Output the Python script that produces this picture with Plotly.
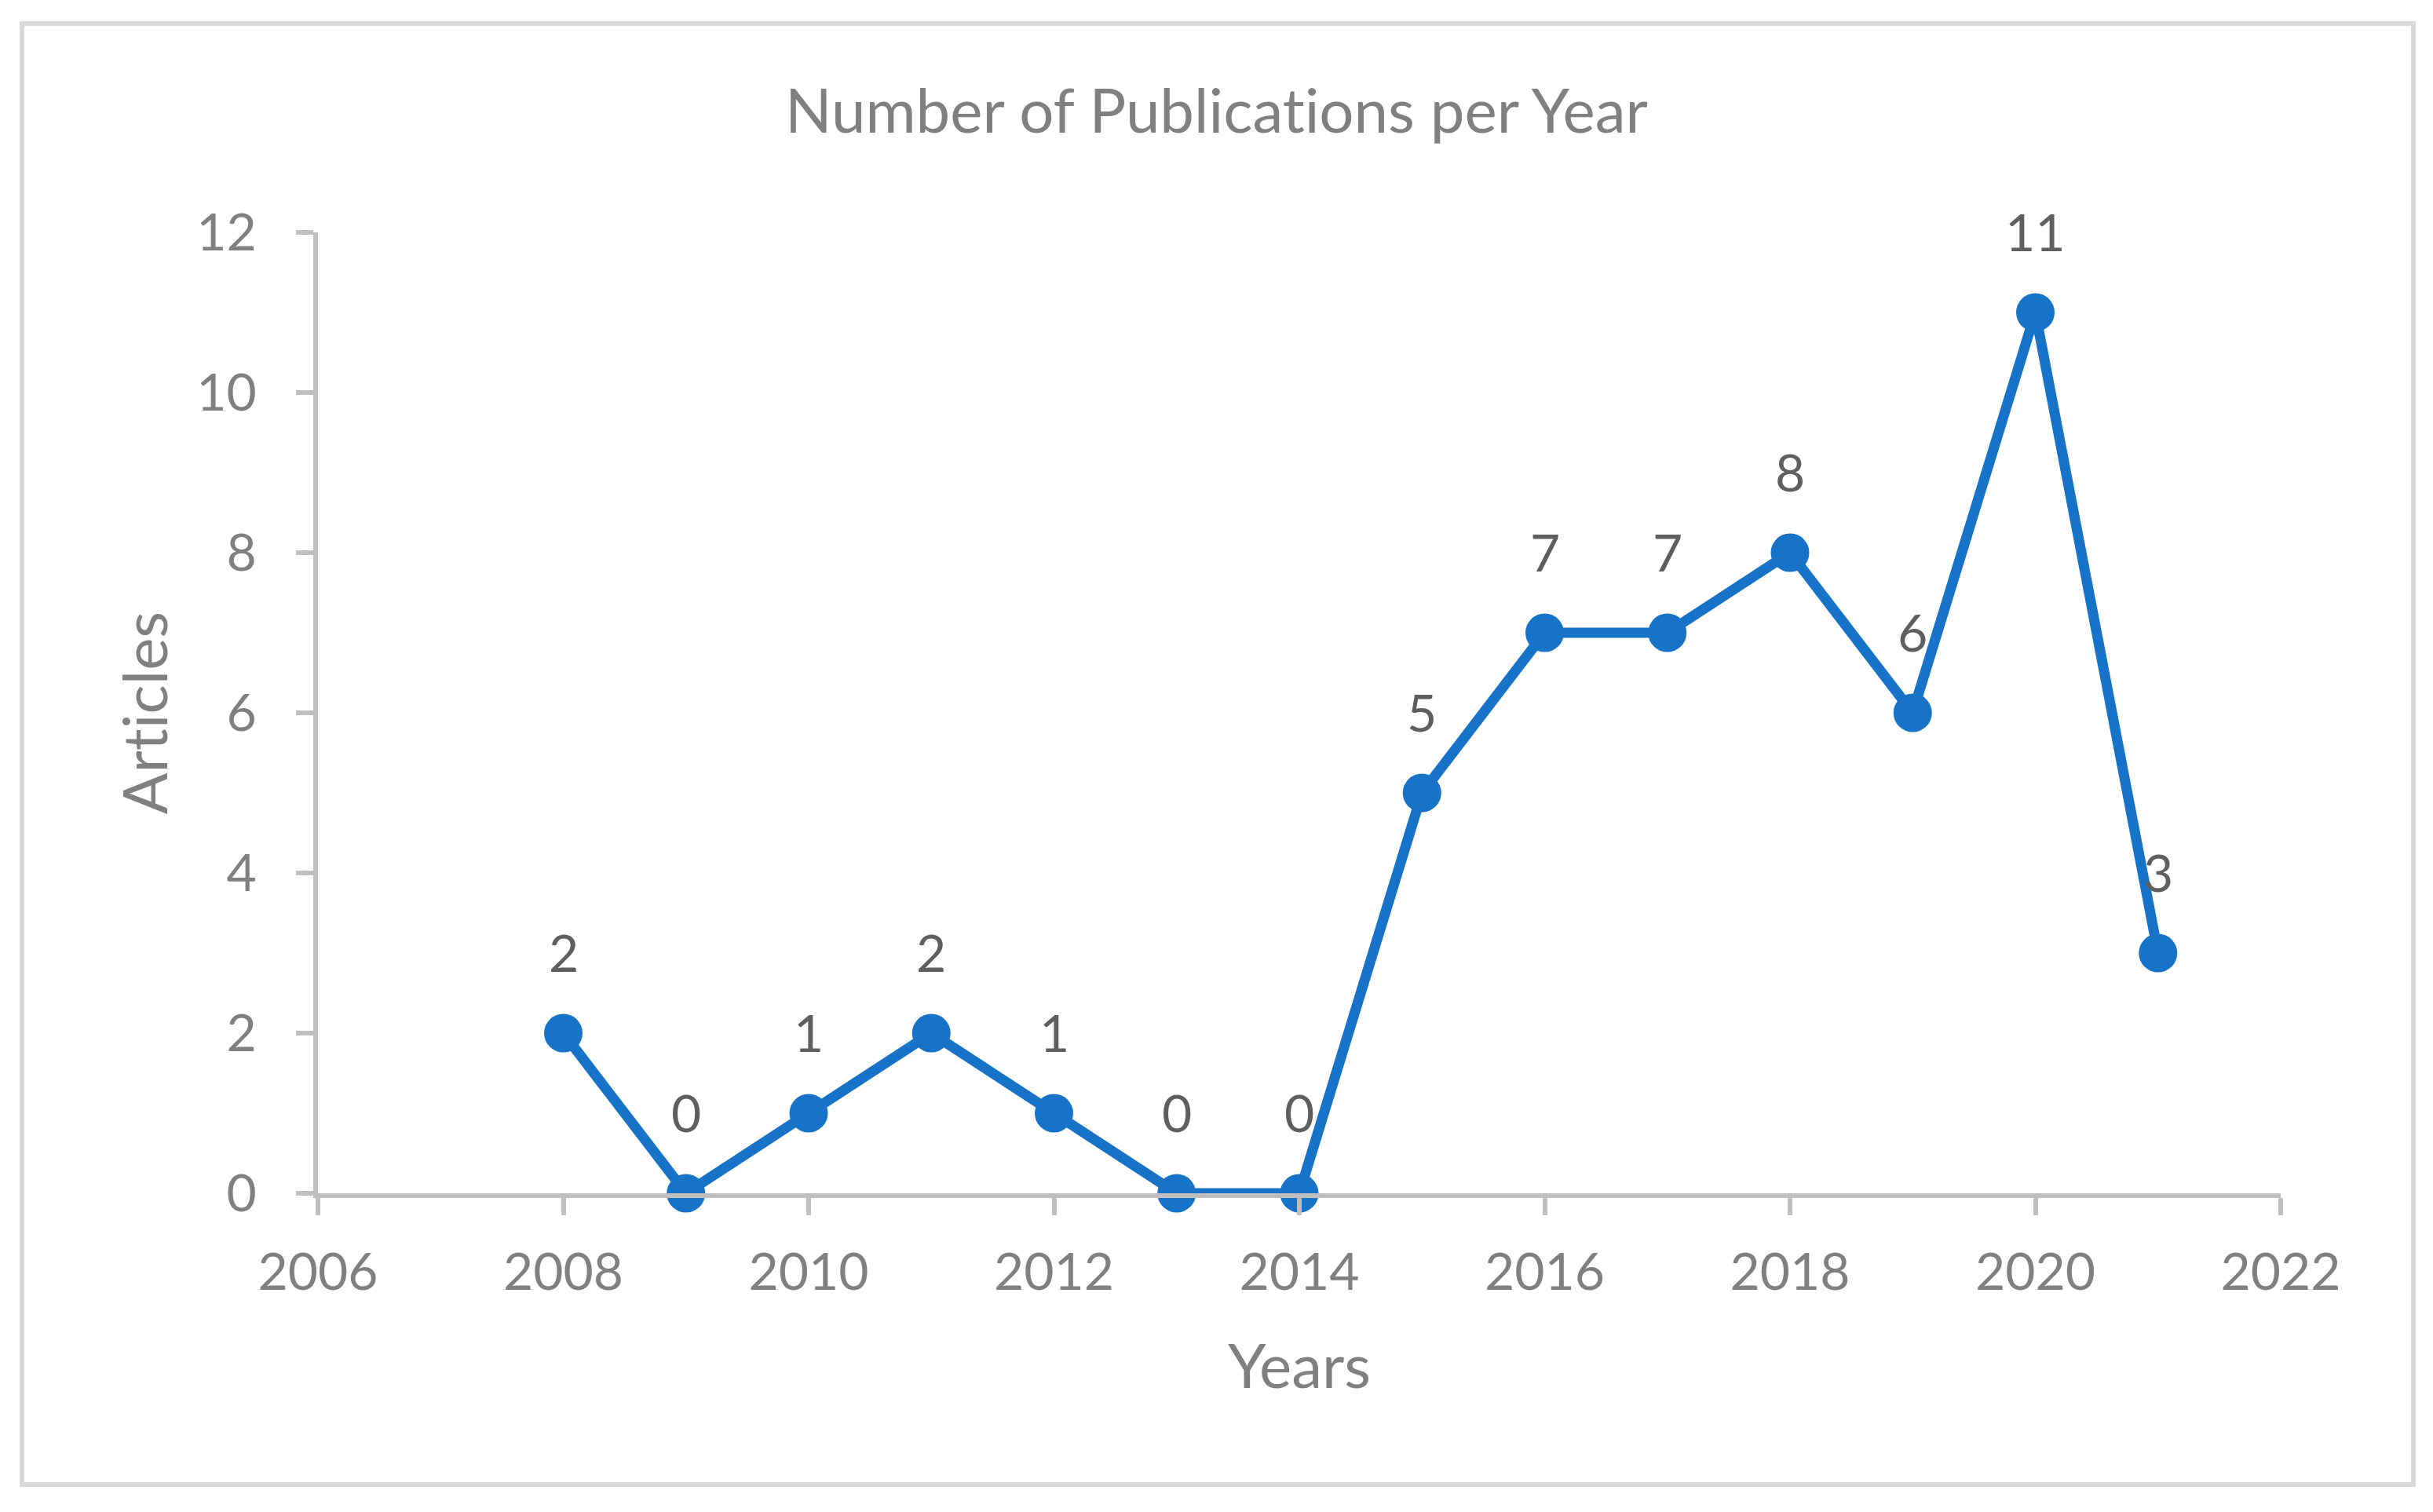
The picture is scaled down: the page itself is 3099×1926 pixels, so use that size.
import plotly.graph_objects as go

years = [2008, 2009, 2010, 2011, 2012, 2013, 2014, 2015, 2016, 2017, 2018, 2019, 2020, 2021]
articles = [2, 0, 1, 2, 1, 0, 0, 5, 7, 7, 8, 6, 11, 3]
x_ticks = [2006, 2008, 2010, 2012, 2014, 2016, 2018, 2020, 2022]
y_ticks = [0, 2, 4, 6, 8, 10, 12]

FONT = "Lato"
GRAY = "#808080"
LABEL = "#5f5f5f"
BLUE = "#1773c8"
AXIS = "#bfbfbf"

fig = go.Figure()
fig.add_trace(go.Scatter(
    x=years, y=articles, mode="lines+markers",
    line=dict(color=BLUE, width=13),
    marker=dict(color=BLUE, size=49),
    cliponaxis=False, showlegend=False, hoverinfo="x+y",
))

for xv, yv in zip(years, articles):
    fig.add_annotation(x=xv, y=yv, text=str(yv), showarrow=False,
                       yshift=104, xanchor="center", yanchor="middle",
                       font=dict(family=FONT, size=66, color=LABEL))

fig.update_layout(
    width=3099, height=1926,
    margin=dict(l=405, r=194, t=296, b=406),
    paper_bgcolor="white", plot_bgcolor="white",
    font=dict(family=FONT, color=GRAY),
    title=dict(text="Number of Publications per Year", x=0.5, xref="container",
               xanchor="center", y=1 - 142 / 1926, yref="container", yanchor="middle",
               font=dict(family=FONT, size=78, color=GRAY)),
    shapes=[dict(type="rect", xref="paper", yref="paper",
                 x0=(28 - 405) / 2500, x1=(3074 - 405) / 2500,
                 y0=(1520 - 1891) / 1224, y1=(1520 - 30) / 1224,
                 line=dict(color="#d9d9d9", width=6), fillcolor="rgba(0,0,0,0)",
                 layer="below")],
)

fig.update_xaxes(
    range=[2006, 2022], tickvals=x_ticks, ticktext=[str(v) for v in x_ticks],
    showgrid=False, zeroline=False, showline=True, linecolor=AXIS, linewidth=6,
    ticks="outside", ticklen=22, tickwidth=6, tickcolor=AXIS,
    tickfont=dict(family=FONT, size=66, color=GRAY), ticklabelstandoff=16,
    title=dict(text="Years", font=dict(family=FONT, size=78, color=GRAY), standoff=59),
)
fig.update_yaxes(
    range=[0, 12], tickvals=y_ticks, ticktext=[str(v) for v in y_ticks],
    showgrid=False, zeroline=False, showline=True, linecolor=AXIS, linewidth=6,
    ticks="outside", ticklen=22, tickwidth=6, tickcolor=AXIS,
    tickfont=dict(family=FONT, size=66, color=GRAY), ticklabelstandoff=37,
    title=dict(text="Articles", font=dict(family=FONT, size=78, color=GRAY), standoff=13),
)

post = (
    "document.body.style.margin='0';document.body.style.overflow='hidden';"
    "var s=document.createElement('style');"
    "s.textContent='text{font-variant-ligatures:none !important;font-feature-settings:\"liga\" 0,\"clig\" 0 !important;}';"
    "document.head.appendChild(s);"
)
fig.write_html("out.html", config={"displayModeBar": False}, post_script=post)
